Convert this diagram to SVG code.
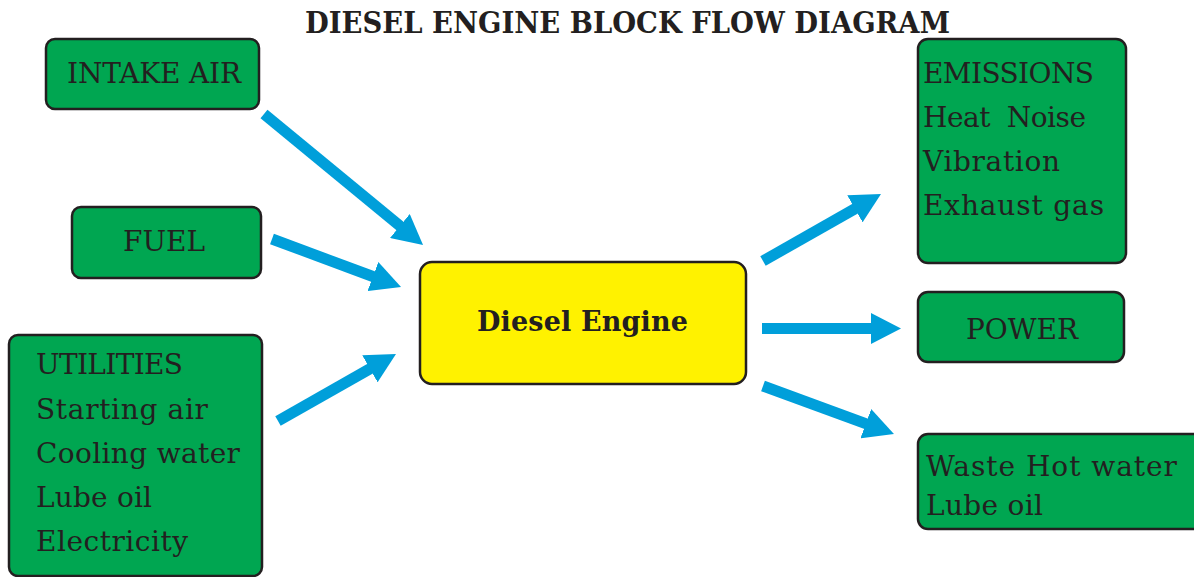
<svg xmlns="http://www.w3.org/2000/svg" width="1194" height="577" viewBox="0 0 1194 577">
<style>
.box{fill:#00A651;stroke:#231F20;stroke-width:2.5}
.eng{fill:#FFF200;stroke:#231F20;stroke-width:2.5}
.t{font-family:"DejaVu Serif","Liberation Serif",serif;font-size:28px;fill:#231F20}
.b{font-family:"DejaVu Serif","Liberation Serif",serif;font-weight:bold;fill:#231F20}
.arr{stroke:#009FDA;stroke-width:11;fill:none;marker-end:url(#ah)}
</style>
<defs>
<marker id="ah" markerUnits="userSpaceOnUse" markerWidth="30" markerHeight="31" refX="10" refY="15.5" orient="auto" viewBox="0 0 30 31">
<path d="M0,0 L30,15.5 L0,31 z" fill="#009FDA"/>
</marker>
</defs>
<text class="b" x="305" y="33" font-size="29" textLength="645" lengthAdjust="spacingAndGlyphs">DIESEL ENGINE BLOCK FLOW DIAGRAM</text>
<g id="intake">
<rect class="box" x="46" y="39" width="213" height="70" rx="9"/>
<text class="t" x="67" y="83" textLength="174">INTAKE AIR</text>
</g>
<g id="fuel">
<rect class="box" x="72" y="207" width="189" height="71" rx="9"/>
<text class="t" x="123" y="251" textLength="82">FUEL</text>
</g>
<g id="utilities">
<rect class="box" x="9" y="335" width="253" height="241" rx="9"/>
<text class="t" x="36" y="374" textLength="147">UTILITIES</text>
<text class="t" x="36" y="419" textLength="172">Starting air</text>
<text class="t" x="36" y="463" textLength="204">Cooling water</text>
<text class="t" x="36" y="507" textLength="116">Lube oil</text>
<text class="t" x="36" y="551" textLength="152">Electricity</text>
</g>
<g id="engine">
<rect class="eng" x="420" y="262" width="326" height="122" rx="12"/>
<text class="b" x="477" y="331" font-size="27" textLength="211">Diesel Engine</text>
</g>
<g id="emissions">
<rect class="box" x="918" y="39" width="208" height="224" rx="10"/>
<text class="t" x="923" y="83" textLength="171">EMISSIONS</text>
<text class="t" x="923" y="127" textLength="163" xml:space="preserve">Heat  Noise</text>
<text class="t" x="923" y="171" textLength="137">Vibration</text>
<text class="t" x="923" y="215" textLength="181">Exhaust gas</text>
</g>
<g id="power">
<rect class="box" x="918" y="292" width="206" height="70" rx="10"/>
<text class="t" x="966" y="339" textLength="112">POWER</text>
</g>
<g id="waste">
<rect class="box" x="918" y="434" width="290" height="95" rx="10"/>
<text class="t" x="926" y="476" textLength="251">Waste Hot water</text>
<text class="t" x="926" y="515" textLength="117">Lube oil</text>
</g>
<g id="connectors">
<line class="arr" x1="264" y1="114" x2="407.6" y2="232.3"/>
<line class="arr" x1="272" y1="239" x2="382.3" y2="280"/>
<line class="arr" x1="278" y1="421" x2="378.6" y2="363.9"/>
<line class="arr" x1="763" y1="261" x2="863.6" y2="203.9"/>
<line class="arr" x1="762" y1="328.5" x2="881" y2="328.5"/>
<line class="arr" x1="763" y1="386" x2="875.2" y2="427.1"/>
</g>
</svg>
